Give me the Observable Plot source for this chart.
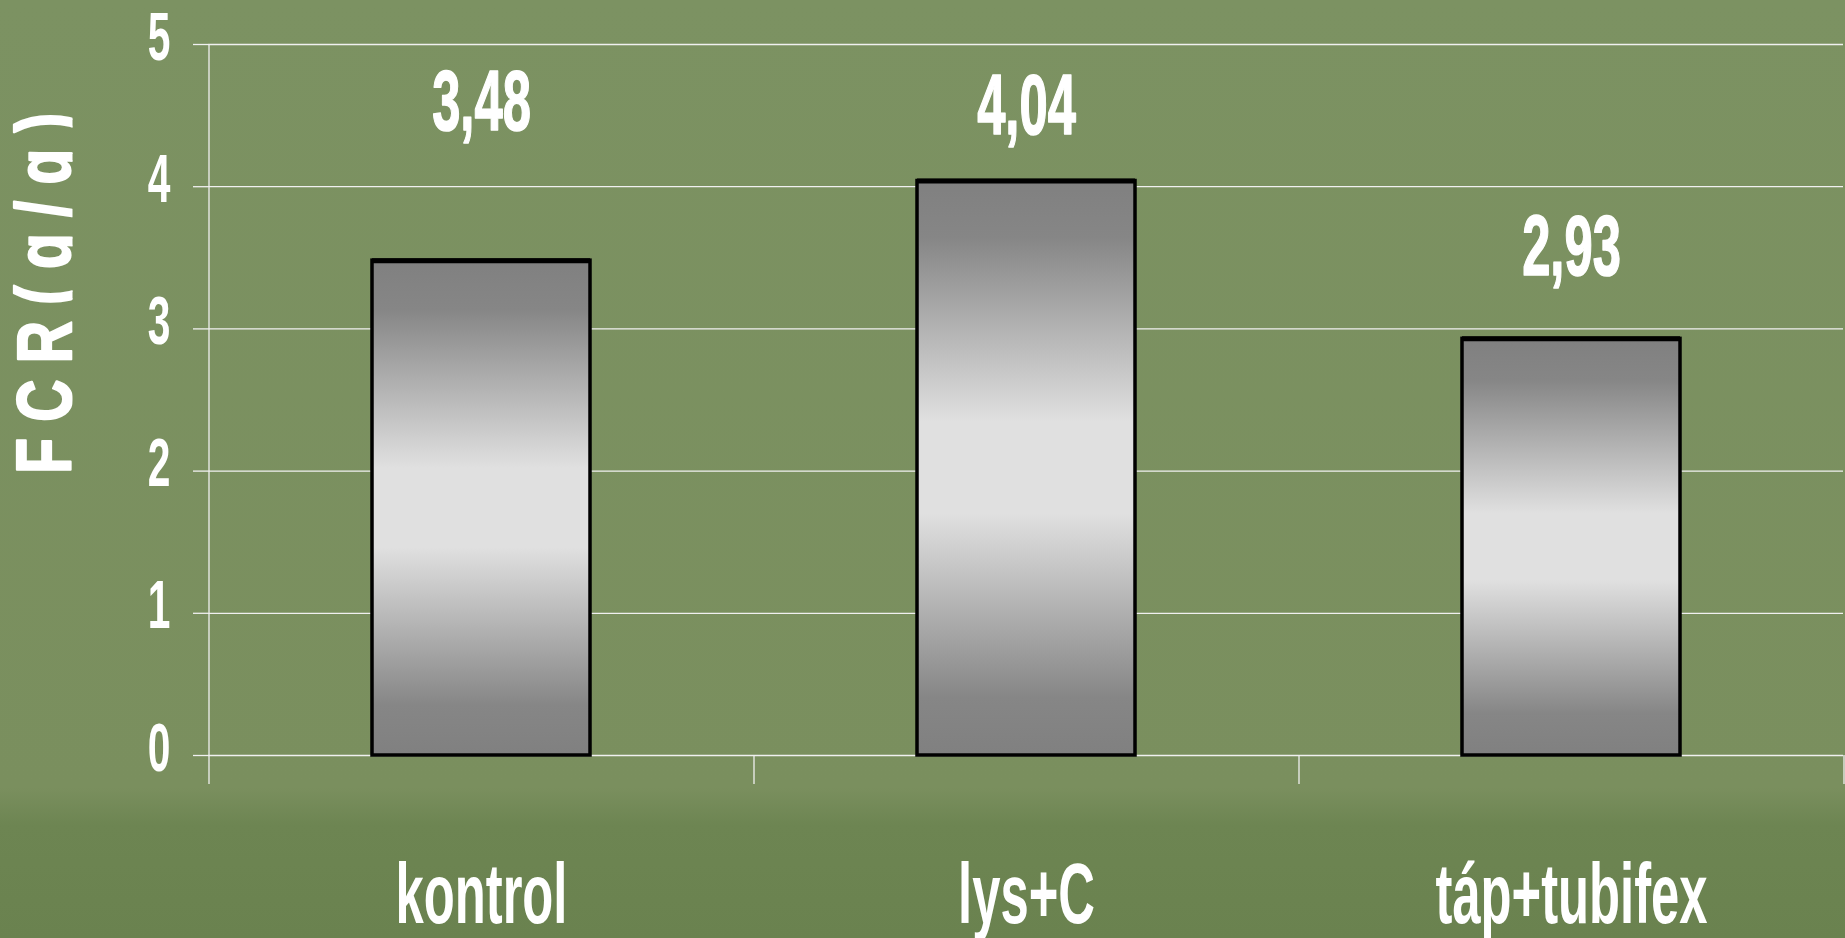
<!DOCTYPE html>
<html>
<head>
<meta charset="utf-8">
<script src="https://cdn.jsdelivr.net/npm/d3@7"></script>
<script src="https://cdn.jsdelivr.net/npm/@observablehq/plot@0.6"></script>
<style>
  html, body { margin: 0; padding: 0; }
  body {
    width: 1845px; height: 938px; overflow: hidden;
    background: linear-gradient(to bottom, #7c9262 0%, #7a8f5e 84%, #6d8552 88%, #6a824f 100%);
  }
</style>
</head>
<body>
<div id="chart"></div>
<script>
// ---- data ----
const categories = ["kontrol", "lys+C", "táp+tubifex"];
const fcrValues = [3.48, 4.04, 2.93];
const valueLabels = ["3,48", "4,04", "2,93"];
const yTicks = [0, 1, 2, 3, 4, 5];
const yTitle = "F C R ( g / g )";

// ---- layout (code only) ----
const data = categories.map((c, i) => ({cat: c, value: fcrValues[i], label: valueLabels[i]}));
const labelLift = {"kontrol": 0.92, "lys+C": 0.33, "táp+tubifex": 0.45};
const W = 1845, H = 938, mL = 208, mR = 2, mT = 44, mB = H - 784;
const yMin = -29 / 142.2;
const step = (W - mL - mR) / categories.length;
const lineCol = "#f0f0f0";
const font = "'Liberation Sans', Arial, sans-serif";
const bold = {fill: "white", stroke: "white", strokeWidth: 1.6, fontWeight: "bold"};

const chart = Plot.plot({
  width: W, height: H,
  marginLeft: mL, marginRight: mR, marginTop: mT, marginBottom: mB,
  style: {background: "transparent", fontFamily: font, color: "white", overflow: "visible"},
  x: {domain: categories, paddingInner: 0.6, paddingOuter: 0.3, axis: null},
  y: {domain: [yMin, 5], axis: null},
  marks: [
    Plot.ruleY(yTicks, {stroke: lineCol, strokeWidth: 1.3}),
    // vertical axis line
    Plot.ruleX([categories[0]], {x: d => d, dx: -step / 2, y1: yMin, y2: 5, stroke: lineCol, strokeWidth: 1.3}),
    // category separators below the baseline
    Plot.ruleX(categories, {x: d => d, dx: step / 2, y1: yMin, y2: 0, stroke: lineCol, strokeWidth: 1.3}),
    // y ticks (lines only)
    Plot.axisY(yTicks, {tickSize: 15, fill: "none", stroke: lineCol, strokeWidth: 1.3, label: null}),
    // y tick labels
    Plot.axisY(yTicks, {tickSize: 0, tickPadding: 38, dy: -7, ...bold, strokeWidth: 1.2,
      tickFormat: d => String(d), fontSize: 69, label: null}),
    // x tick labels
    Plot.axisX({tickSize: 0, tickPadding: 77, ...bold, fontSize: 86, label: null}),
    Plot.barY(data, {x: "cat", y: "value", fill: "url(#barGrad)", stroke: "black", strokeWidth: 3.5}),
    Plot.tickY(data, {x: "cat", y: "value", stroke: "black", strokeWidth: 5}),
    Plot.text(data, {x: "cat", y: d => d.value + labelLift[d.cat], text: "label", lineAnchor: "bottom",
      fontSize: 86, ...bold}),
    Plot.text([yTitle], {frameAnchor: "left", rotate: -90, dx: 70 - mL, dy: 293 - (mT + 784) / 2,
      textAnchor: "middle", lineAnchor: "bottom", fontSize: 77, ...bold, strokeWidth: 2.2})
  ]
});

document.getElementById("chart").appendChild(chart);

// gradient for the bars + clip for the title's descenders
const svg = d3.select(chart);
const defs = svg.insert("defs", ":first-child");
const grad = defs.append("linearGradient")
  .attr("id", "barGrad").attr("x1", 0).attr("y1", 0).attr("x2", 0).attr("y2", 1);
[[0, "#808080"], [0.1, "#868686"], [0.42, "#e0e0e0"], [0.58, "#e0e0e0"], [0.9, "#868686"], [1, "#808080"]]
  .forEach(([o, c]) => grad.append("stop").attr("offset", o).attr("stop-color", c));
defs.append("clipPath").attr("id", "titleClip").attr("clipPathUnits", "userSpaceOnUse")
  .append("rect").attr("x", -3000).attr("y", -300).attr("width", 6000).attr("height", 302);

// horizontal squeeze of the condensed bold lettering
svg.selectAll("text").each(function () {
  const isTitle = this.textContent === yTitle;
  const s = isTitle ? 0.76 : 0.59;
  const t = this.getAttribute("transform") || "";
  this.setAttribute("transform", `${t} scale(${s},1)`);
  if (isTitle) this.setAttribute("clip-path", "url(#titleClip)");
});
</script>
</body>
</html>
